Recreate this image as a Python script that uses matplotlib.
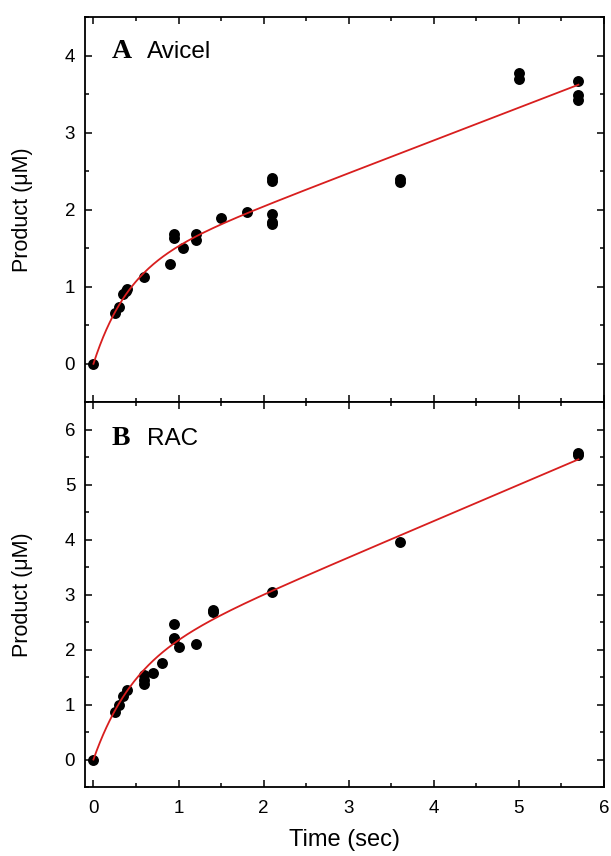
import numpy as np
import matplotlib
matplotlib.use("Agg")
import matplotlib.pyplot as plt
from matplotlib.ticker import MultipleLocator

plt.rcParams['font.family'] = ['Liberation Sans', 'DejaVu Sans']

# Panel A: Avicel
t_avicel = [0, 0.25, 0.3, 0.35, 0.4, 0.38, 0.6, 0.9, 0.95, 0.95, 1.05, 1.2, 1.2,
            1.5, 1.8, 2.1, 2.1, 2.1, 2.1, 2.1, 3.6, 3.6, 5.0, 5.0, 5.7, 5.7, 5.7]
p_avicel = [0, 0.66, 0.74, 0.91, 0.97, 0.95, 1.13, 1.30, 1.63, 1.69, 1.50, 1.61, 1.69,
            1.89, 1.97, 2.37, 2.41, 1.95, 1.81, 1.84, 2.36, 2.40, 3.77, 3.70, 3.67, 3.49, 3.42]

# Panel B: RAC
t_rac = [0, 0.25, 0.3, 0.35, 0.4, 0.6, 0.6, 0.6, 0.7, 0.8, 0.95, 0.95, 0.95, 1.0,
         1.2, 1.4, 1.4, 2.1, 3.6, 5.7, 5.7]
p_rac = [0, 0.87, 0.99, 1.15, 1.26, 1.54, 1.38, 1.45, 1.58, 1.75, 2.46, 2.22, 2.19, 2.05,
         2.11, 2.68, 2.72, 3.04, 3.95, 5.54, 5.57]

# burst + linear fit parameters (A, k, v)
fit_avicel = (1.20, 2.5, 0.425)
fit_rac = (1.70, 2.2, 0.66)


def model(t, A, k, v):
    return A * (1 - np.exp(-k * t)) + v * t


fig = plt.figure(figsize=(6.11, 8.56), dpi=100)
axA = fig.add_axes([0.139, 0.530, 0.8495, 0.450])
axB = fig.add_axes([0.139, 0.0806, 0.8495, 0.4494], sharex=axA)

tt = np.linspace(0, 5.7, 300)
for ax, t, p, fit, ylim in [
        (axA, t_avicel, p_avicel, fit_avicel, (-0.5, 4.5)),
        (axB, t_rac, p_rac, fit_rac, (-0.5, 6.5))]:
    ax.scatter(t, p, s=62, color='black', zorder=3, linewidths=0)
    ax.plot(tt, model(tt, *fit), color='#d81e1e', lw=1.3, zorder=4)
    ax.set_ylim(*ylim)
    ax.set_xlim(-0.1, 6.0)
    ax.xaxis.set_major_locator(MultipleLocator(1))
    ax.xaxis.set_minor_locator(MultipleLocator(0.5))
    ax.yaxis.set_major_locator(MultipleLocator(1))
    ax.yaxis.set_minor_locator(MultipleLocator(0.5))
    ax.tick_params(which='both', direction='in', top=True, right=True, width=1.1,
                   labelsize=13.5, colors='black')
    ax.tick_params(which='major', length=5)
    ax.tick_params(which='minor', length=3)
    ax.tick_params(axis='y', which='major', pad=7)
    ax.tick_params(axis='x', which='major', pad=9)
    for s in ax.spines.values():
        s.set_linewidth(1.3)
    ax.set_ylabel('Product (\u03bcM)', fontsize=15.5)
    ax.yaxis.set_label_coords(-0.100, 0.5)

axA.tick_params(labelbottom=False)
axA.text(0.052, 0.894, 'A', transform=axA.transAxes, fontsize=20, fontweight='bold',
         family='Liberation Serif', va='baseline')
axA.text(0.119, 0.894, 'Avicel', transform=axA.transAxes, fontsize=17.5, va='baseline')
axB.text(0.052, 0.888, 'B', transform=axB.transAxes, fontsize=20, fontweight='bold',
         family='Liberation Serif', va='baseline')
axB.text(0.119, 0.888, 'RAC', transform=axB.transAxes, fontsize=17.5, va='baseline')
axB.set_xlabel('Time (sec)', fontsize=17)
axB.xaxis.set_label_coords(0.5, -0.108)

fig.savefig('out.png', dpi=100)
